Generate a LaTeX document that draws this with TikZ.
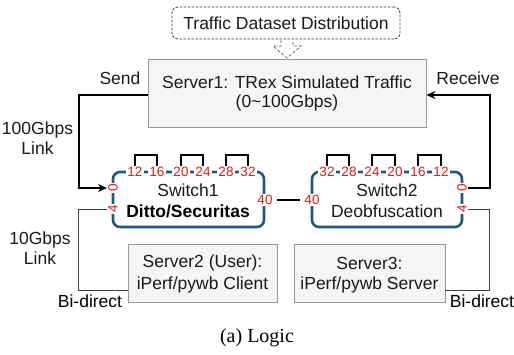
\documentclass[tikz,border=0pt]{standalone}
\usepackage{fontspec}
\setmainfont{Liberation Sans}
\newfontfamily\capfont{Liberation Serif}
\usetikzlibrary{arrows.meta}
\definecolor{swc}{HTML}{1C5A78}
\definecolor{portc}{HTML}{E01B1B}
\definecolor{boxfill}{HTML}{F5F5F5}
\definecolor{boxdraw}{HTML}{999999}
\definecolor{txt}{HTML}{1A1A1A}
\begin{document}
\begin{tikzpicture}[x=1pt,y=-1pt,
  lbl/.style={font=\fontsize{17.5}{19}\selectfont, text=txt, align=center, inner sep=0pt},
  srv/.style={draw=boxdraw, fill=boxfill, line width=0.8pt, inner sep=0pt},
  swbox/.style={draw=swc, line width=2.6pt, rounded corners=7pt, inner sep=0pt},
  port/.style={font=\fontsize{13.5}{14}\selectfont, text=portc, fill=white, inner sep=1pt},
  fatlink/.style={line width=2.6pt, black},
  slimlink/.style={line width=0.8pt, black!75},
  loopl/.style={line width=2.4pt, black},
  arrowtip/.style={-{Stealth[length=9pt,width=8pt]}}
  ]
\useasboundingbox (0,0) rectangle (514,354);
% dataset box
\node[draw=black!80, line width=0.8pt, dash pattern=on 2.5pt off 1.5pt, rounded corners=6pt, minimum width=228pt, minimum height=32pt, lbl] (ds) at (286,23) {Traffic Dataset Distribution};
% hollow arrow
\draw[black!65, densely dashed, line width=0.7pt] (281,40) -- (281,46) -- (273,46) -- (287,58) -- (301,46) -- (293,46) -- (293,40);
% server1
\node[srv, minimum width=278pt, minimum height=68pt] (s1) at (287,93) {};
\node[lbl] (s1t) at (287,82) {Server1: TRex Simulated Traffic};
\node[lbl] (s1b) at (287,103) {(0\textasciitilde100Gbps)};
% switches
\node[swbox, minimum width=151pt, minimum height=55pt] (sw1) at (188.5,199.5) {};
\node[swbox, minimum width=150pt, minimum height=55pt] (sw2) at (387,199.5) {};
\node[lbl] (sw1a) at (188,190) {Switch1};
\node[lbl, font=\fontsize{17.5}{19}\selectfont\bfseries, text=black] (sw1b) at (188,211) {Ditto/Securitas};
\node[lbl] (sw2a) at (387,190) {Switch2};
\node[lbl] (sw2b) at (387,211) {Deobfuscation};
% 100G links (drawn first, port labels cover ends)
\coordinate (c1) at (79,95);
\coordinate (p1a) at (113,188);
\coordinate (p1b) at (113,209);
\coordinate (p2a) at (462,188);
\coordinate (p2b) at (462,209);
\draw[fatlink, arrowtip, shorten >=6pt] (s1.west |- c1) -| (79,188) -- (p1a);
\draw[fatlink, arrowtip, shorten <=6pt] (p2a) -- (490,188) |- (s1.east |- c1);
% ports top
\foreach \n/\x in {12/135,16/157,20/181,24/203,28/226,32/248}{
  \node[port] (a\n) at (\x,172) {\n};
}
\foreach \n/\x in {32/327,28/349,24/372,20/395,16/418,12/441}{
  \node[port] (b\n) at (\x,172) {\n};
}
\foreach \p/\q in {12/16,20/24,28/32}{
  \draw[loopl] (a\p.north) -- ++(0,-11) -| (a\q.north);
}
\foreach \p/\q in {32/28,24/20,16/12}{
  \draw[loopl] (b\p.north) -- ++(0,-11) -| (b\q.north);
}
% side ports
\node[port, rotate=90] (a0) at (p1a) {0};
\node[port, rotate=90] (a4) at (p1b) {4};
\node[port, rotate=90] (b0) at (p2a) {0};
\node[port, rotate=90] (b4) at (p2b) {4};
\node[port] (a40) at (265,200) {40};
\node[port] (b40) at (312,200) {40};
\draw[fatlink, shorten <=3pt, shorten >=3pt] (a40.east) -- (b40.west);
% servers 2,3
\node[srv, minimum width=149pt, minimum height=58pt] (s2) at (202.5,273) {};
\node[lbl] at (202.5,263) {Server2 (User):};
\node[lbl] at (202.5,285) {iPerf/pywb Client};
\node[srv, minimum width=151pt, minimum height=58pt] (s3) at (369.5,273) {};
\node[lbl] at (369.5,263) {Server3:};
\node[lbl] at (369.5,285) {iPerf/pywb Server};
% 10G links
\draw[slimlink, shorten <=6pt] (p1b) -- (78,209) |- (s2.west |- 0,290);
\draw[slimlink, shorten <=6pt] (p2b) -- (489,209) |- (s3.east |- 0,290);
% labels
\node[lbl] at (120,78) {Send};
\node[lbl] at (468,78) {Receive};
\node[lbl] at (37.5,138) {100Gbps\\[1pt]Link};
\node[lbl] at (40,248) {10Gbps\\[1pt]Link};
\node[lbl, text=black] at (90,301) {Bi-direct};
\node[lbl, text=black] at (482,301) {Bi-direct};
\node[font=\fontsize{20}{22}\selectfont\capfont, inner sep=0pt] at (257,338) {(a) Logic};
\end{tikzpicture}
\end{document}
